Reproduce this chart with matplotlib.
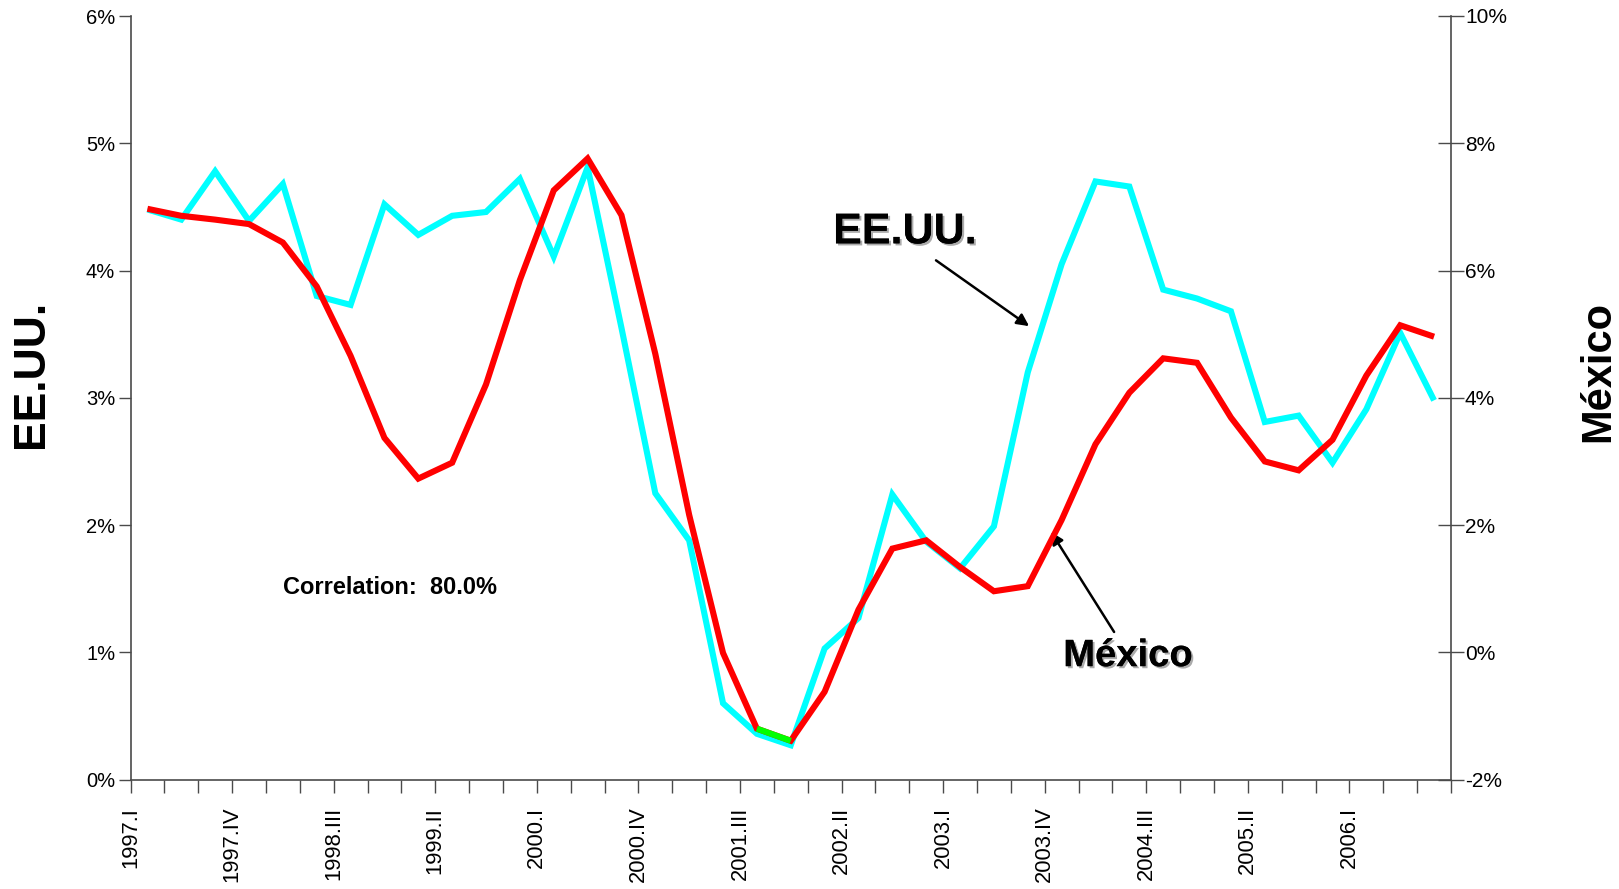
import numpy as np
import matplotlib
matplotlib.use("Agg")
import matplotlib.pyplot as plt
from matplotlib import patheffects as pe
from matplotlib.ticker import FixedLocator, FuncFormatter

plt.rcParams['font.family'] = ['Liberation Sans', 'DejaVu Sans']

# ---- data (quarterly, 1997.I ... 2006.III) ----
eeuu = [4.48, 4.40, 4.78, 4.39, 4.68, 3.80, 3.73, 4.52, 4.28, 4.43,
        4.46, 4.72, 4.11, 4.81, 3.55, 2.25, 1.88, 0.60, 0.36, 0.27,
        1.03, 1.27, 2.24, 1.87, 1.66, 1.99, 3.20, 4.05, 4.70, 4.66,
        3.85, 3.78, 3.68, 2.81, 2.86, 2.49, 2.91, 3.51, 2.98]
mexico = [6.97, 6.86, 6.80, 6.73, 6.44, 5.75, 4.66, 3.37, 2.73, 2.98,
          4.21, 5.85, 7.26, 7.76, 6.87, 4.69, 2.16, -0.01, -1.20, -1.39,
          -0.62, 0.67, 1.63, 1.76, 1.34, 0.96, 1.04, 2.08, 3.27, 4.08,
          4.62, 4.55, 3.69, 3.00, 2.86, 3.34, 4.35, 5.14, 4.96]
highlight = (18, 19)  # segment drawn in green

tick_labels = ['1997.I', '1997.IV', '1998.III', '1999.II', '2000.I', '2000.IV',
               '2001.III', '2002.II', '2003.I', '2003.IV', '2004.III',
               '2005.II', '2006.I']
label_step = 3
left_ticks = [0, 1, 2, 3, 4, 5, 6]
right_ticks = [-2, 0, 2, 4, 6, 8, 10]
correlation_text = 'Correlation:  80.0%'

n = len(eeuu)
x = np.arange(n) + 0.5

fig = plt.figure(figsize=(16.19, 8.89), dpi=100)
ax = fig.add_axes([130.5 / 1619, 1 - 779.6 / 889, (1451 - 130.5) / 1619, (779.6 - 16) / 889])
ax2 = ax.twinx()

ax.plot(x, eeuu, color='#00FFFF', lw=4.4, solid_joinstyle='miter', solid_capstyle='butt', zorder=3)
ax2.plot(x, mexico, color='#FF0000', lw=4.4, solid_joinstyle='miter', solid_capstyle='butt', zorder=3)
h0, h1 = highlight
ax2.plot(x[h0:h1 + 1], mexico[h0:h1 + 1], color='#00FF00', lw=4.4, solid_capstyle='butt', zorder=4)

ax.set_xlim(0, n)
ax.set_ylim(left_ticks[0], left_ticks[-1])
ax2.set_ylim(right_ticks[0], right_ticks[-1])

ax.set_xticks(np.arange(0, len(tick_labels) * label_step, label_step))
ax.set_xticklabels(tick_labels)
ax.xaxis.set_minor_locator(FixedLocator(np.arange(0, n + 1)))
ax.set_yticks(left_ticks)
ax2.set_yticks(right_ticks)
pct = FuncFormatter(lambda v, p: f"{int(round(v))}%")
ax.yaxis.set_major_formatter(pct)
ax2.yaxis.set_major_formatter(pct)

spc = '#4a4a4a'
for a in (ax, ax2):
    a.spines['top'].set_visible(False)
    for s in a.spines.values():
        s.set_color(spc)
        s.set_linewidth(1.2)
ax.spines['right'].set_visible(False)
ax2.spines['left'].set_visible(False)
ax2.spines['bottom'].set_visible(False)

ax.tick_params(axis='y', direction='out', length=9, width=1, pad=2, labelsize=14.5, color=spc)
ax.tick_params(axis='x', which='both', direction='out', length=9.5, width=1, color=spc)
ax.tick_params(axis='x', which='major', pad=10, labelsize=15.8, labelrotation=90)
ax2.tick_params(axis='y', direction='inout', length=19, width=1, pad=0.5, labelsize=15, color=spc)

ax.patch.set_visible(False)

shadow = [pe.withSimplePatchShadow(offset=(1.5, -1.5), shadow_rgbFace='0.45', alpha=0.6), pe.Normal()]

fig.text(31 / 1619, 1 - 374 / 889, 'EE.UU.', rotation=90, ha='center', va='center',
         fontsize=32, fontweight='bold')
fig.text(1598 / 1619, 1 - 372 / 889, 'México', rotation=90, ha='center', va='center',
         fontsize=30, fontweight='bold')
fig.text(390 / 1619, 1 - 588 / 889, correlation_text, ha='center', va='center',
         fontsize=17, fontweight='bold')

# annotations (text in data coordinates of the left axis)
ax.text(22.87, 4.30, 'EE.UU.', ha='center', va='center', fontsize=31, fontweight='bold',
        path_effects=shadow, zorder=6)
ax.annotate('', xy=(26.54, 3.563), xytext=(23.79, 4.08),
            arrowprops=dict(arrowstyle='-|>', color='black', lw=1.8, mutation_scale=18,
                            shrinkA=0, shrinkB=0), zorder=6)
ax.text(29.46, 0.97, 'México', ha='center', va='center', fontsize=27.5, fontweight='bold',
        path_effects=shadow, zorder=6)
ax.annotate('', xy=(27.19, 1.945), xytext=(29.05, 1.16),
            arrowprops=dict(arrowstyle='-|>', color='black', lw=1.8, mutation_scale=18,
                            shrinkA=0, shrinkB=0), zorder=6)

fig.savefig('out.png', dpi=100, facecolor='white')
